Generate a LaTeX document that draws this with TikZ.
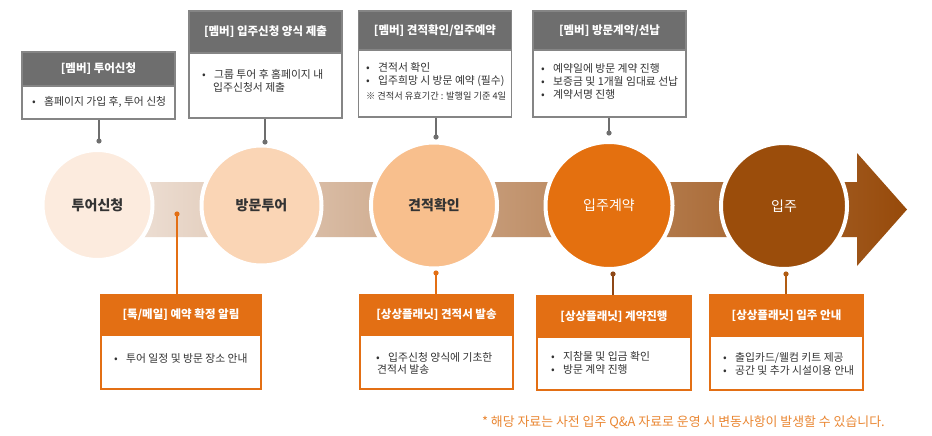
\documentclass[tikz,border=0pt]{standalone}
\usepackage{fontspec}
\setmainfont{Noto Sans CJK KR}
\usetikzlibrary{shapes.geometric}
\definecolor{hgray}{HTML}{6E6E6E}
\definecolor{bgray}{HTML}{858585}
\definecolor{horange}{HTML}{E36F14}
\definecolor{txtdark}{HTML}{333333}
\definecolor{cA}{HTML}{FCEBDE}
\definecolor{cB}{HTML}{FAD5B5}
\definecolor{cC}{HTML}{F8BF8D}
\definecolor{cD}{HTML}{E4700F}
\definecolor{cE}{HTML}{9B4D0B}
\definecolor{bandL}{HTML}{F1E6DE}
\definecolor{bandR}{HTML}{974A0A}
\definecolor{stemB}{HTML}{8E4716}
\definecolor{stemC}{HTML}{B15C12}
\definecolor{notecol}{HTML}{EA8733}
\newcommand\myb[1]{\makebox[12pt][l]{•}#1}
\tikzset{
  tophead/.style={rectangle, fill=hgray, draw=bgray, line width=1.4pt, inner sep=0pt,
    minimum width=153pt, text=white, font=\bfseries\fontsize{11.5}{13}\selectfont},
  topbody/.style={rectangle, fill=white, draw=bgray, line width=1.4pt, inner sep=0pt,
    minimum width=153pt},
  bothead/.style={rectangle, fill=horange, draw=horange, line width=1.4pt, inner sep=0pt,
    text=white, font=\bfseries\fontsize{11.5}{13}\selectfont},
  botbody/.style={rectangle, fill=white, draw=horange, line width=1.4pt, inner sep=0pt},
  bodytxt/.style={anchor=base west, inner sep=0pt, text=txtdark, font=\fontsize{10.8}{13}\selectfont},
  stage/.style={circle, draw=white, line width=4pt, inner sep=0pt,
    font=\fontsize{14}{16}\selectfont},
  graystem/.style={draw=hgray, line width=1.4pt},
  orstem/.style={line width=1.4pt},
}
\begin{document}
\begin{tikzpicture}[x=1pt,y=-1pt]
\useasboundingbox (0,0) rectangle (932,436);
\fill[white] (0,0) rectangle (932,436);

% band and arrow
\path[left color=bandL, right color=bandR]
  (97,182) -- (857,182) -- (857,153) -- (907,209.5) -- (857,266) -- (857,237) -- (97,237) -- cycle;

% stages
\node[stage, fill=cA, text=txtdark, minimum size=110pt] (s1) at (97.5,205) {\bfseries 투어신청};
\node[stage, fill=cB, text=txtdark, minimum size=120pt] (s2) at (261.5,205.5) {\bfseries 방문투어};
\node[stage, fill=cC, text=txtdark, minimum size=126pt] (s3) at (434,205.5) {\bfseries 견적확인};
\node[stage, fill=cD, text=white, minimum size=127pt] (s4) at (609,205.5) {입주계약};
\node[stage, fill=cE, text=white, minimum size=126pt] (s5) at (784,206) {입주};

% ---------- top boxes ----------
\node[topbody, minimum height=33pt] (tb1) at (98.5,102.5) {};
\node[tophead, minimum height=34pt] (th1) at (98.5,69) {[멤버] 투어신청};
\node[bodytxt] (tt1) at (32,106) {\begin{tabular}[t]{@{}l@{}}\myb{홈페이지 가입 후, 투어 신청}\end{tabular}};

\node[topbody, minimum height=65pt] (tb2) at (265.5,85.5) {};
\node[tophead, minimum height=42pt] (th2) at (265.5,32) {[멤버] 입주신청 양식 제출};
\node[bodytxt, font=\fontsize{10.8}{12.3}\selectfont] (tt2) at (202,79) {\begin{tabular}[t]{@{}l@{}}\myb{그룹 투어 후 홈페이지 내}\\\hspace{11pt}입주신청서 제출\end{tabular}};

\node[topbody, minimum height=67pt] (tb3) at (435,83.5) {};
\node[tophead, minimum height=39pt] (th3) at (435,30.5) {[멤버] 견적확인/입주예약};
\node[bodytxt] (tt3) at (366,72) {\begin{tabular}[t]{@{}l@{}}\myb{견적서 확인}\\\myb{입주희망 시 방문 예약 (필수)}\\[1.5pt]{\fontsize{9.2}{10}\selectfont ※ 견적서 유효기간 : 발행일 기준 4일}\end{tabular}};

\node[topbody, minimum height=67pt] (tb4) at (609.5,83.5) {};
\node[tophead, minimum height=39pt] (th4) at (609.5,30.5) {[멤버] 방문계약/선납};
\node[bodytxt] (tt4) at (541,73) {\begin{tabular}[t]{@{}l@{}}\myb{예약일에 방문 계약 진행}\\\myb{보증금 및 1개월 임대료 선납}\\\myb{계약서명 진행}\end{tabular}};

% top stems
\coordinate (d1) at (99,141);
\coordinate (d2) at (265,142);
\coordinate (d3) at (436,137);
\coordinate (d4) at (609,133);
\draw[graystem] (tb1.south -| d1) -- (d1);
\draw[graystem] (tb2.south -| d2) -- (d2);
\draw[graystem] (tb3.south -| d3) -- (d3);
\draw[graystem] (tb4.south -| d4) -- (d4);
\foreach \d in {d1,d2,d3,d4} \fill[hgray] (\d) circle (2.6pt);

% ---------- bottom boxes ----------
\node[botbody, minimum width=160pt, minimum height=54pt] (bb1) at (181,362) {};
\node[bothead, minimum width=160pt, minimum height=40pt] (bh1) at (181,315) {[톡/메일] 예약 확정 알림};
\node[bodytxt] (bt1) at (114,362) {\begin{tabular}[t]{@{}l@{}}\myb{투어 일정 및 방문 장소 안내}\end{tabular}};

\node[botbody, minimum width=153pt, minimum height=54pt] (bb2) at (436.5,362) {};
\node[bothead, minimum width=153pt, minimum height=40pt] (bh2) at (436.5,315) {[상상플래닛] 견적서 발송};
\node[bodytxt, font=\fontsize{10.8}{11.5}\selectfont] (bt2) at (376,361) {\begin{tabular}[t]{@{}l@{}}\myb{입주신청 양식에 기초한}\\\hspace{1pt}견적서 발송\end{tabular}};

\node[botbody, minimum width=154pt, minimum height=53pt] (bb3) at (614,363.5) {};
\node[bothead, minimum width=154pt, minimum height=41pt] (bh3) at (614,316.5) {[상상플래닛] 계약진행};
\node[bodytxt] (bt3) at (551,360) {\begin{tabular}[t]{@{}l@{}}\myb{지참물 및 입금 확인}\\\myb{방문 계약 진행}\end{tabular}};

\node[botbody, minimum width=153pt, minimum height=54pt] (bb4) at (786.5,363) {};
\node[bothead, minimum width=153pt, minimum height=41pt] (bh4) at (786.5,315.5) {[상상플래닛] 입주 안내};
\node[bodytxt] (bt4) at (723,361) {\begin{tabular}[t]{@{}l@{}}\myb{출입카드/웰컴 키트 제공}\\\myb{공간 및 추가 시설이용 안내}\end{tabular}};

% bottom stems
\coordinate (e1) at (177,214);
\coordinate (e2) at (436,273);
\coordinate (e3) at (613,274);
\coordinate (e4) at (786,274);
\draw[orstem, horange] (bh1.north -| e1) -- (e1);
\draw[orstem, horange] (bh2.north -| e2) -- (e2);
\draw[orstem, stemB] (bh3.north -| e3) -- (e3);
\draw[orstem, stemC] (bh4.north -| e4) -- (e4);
\fill[horange] (e1) circle (2.6pt);
\fill[horange] (e2) circle (2.6pt);
\fill[stemB] (e3) circle (2.6pt);
\fill[stemC] (e4) circle (2.6pt);

% footnote
\node[anchor=base east, inner sep=0pt, text=notecol, font=\fontsize{12.9}{15}\selectfont] (note) at (885,426.5)
  {* 해당 자료는 사전 입주 Q\&A 자료로 운영 시 변동사항이 발생할 수 있습니다.};
\end{tikzpicture}
\end{document}
